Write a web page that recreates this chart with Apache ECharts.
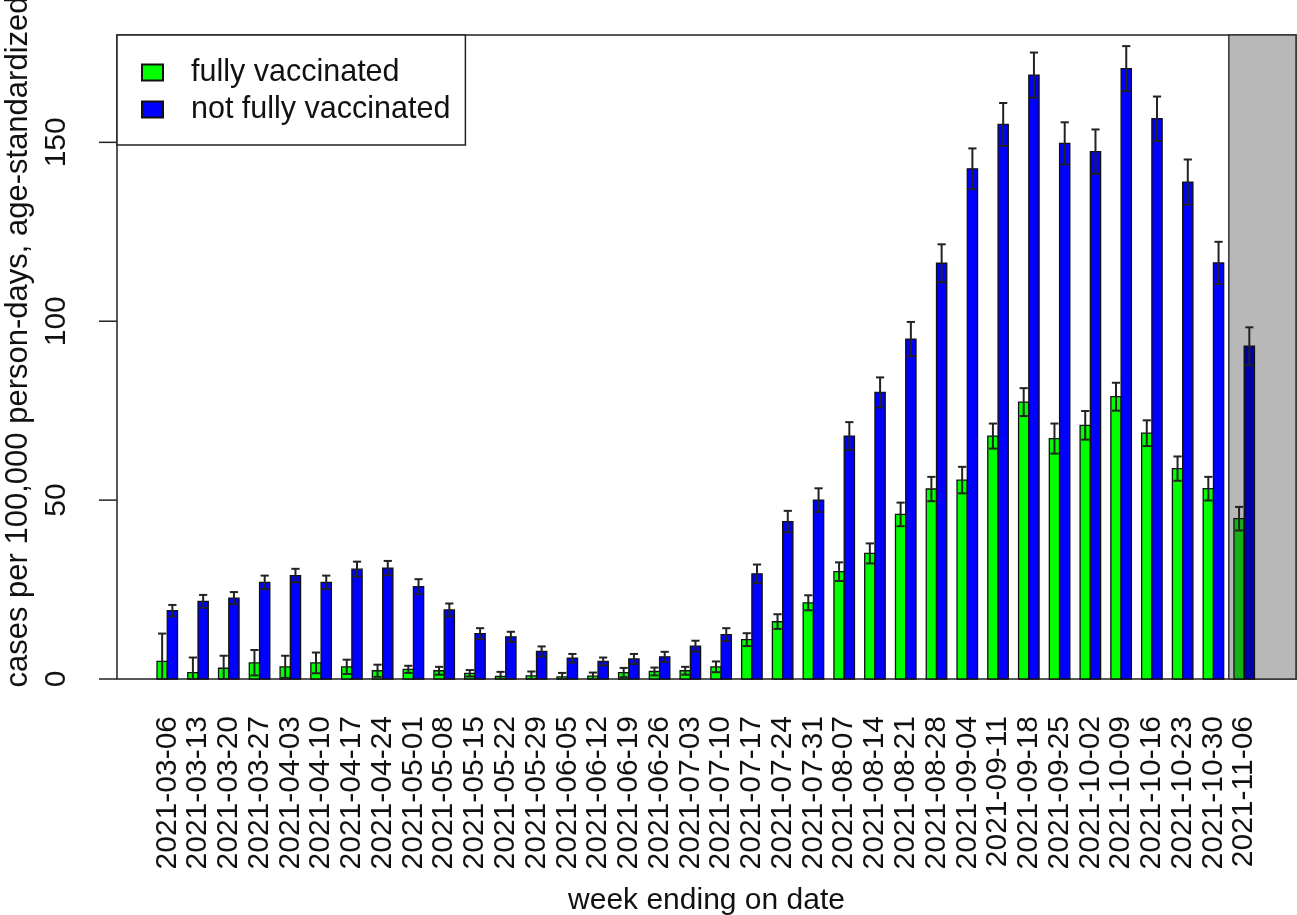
<!DOCTYPE html>
<html>
<head>
<meta charset="utf-8">
<script src="https://cdn.jsdelivr.net/npm/echarts@6/dist/echarts.min.js"></script>
<style>
  html, body { margin: 0; padding: 0; background: #fff; }
  #chart { width: 1297px; height: 915px; }
</style>
</head>
<body>
<div id="chart"></div>
<script>
  // week ending dates
  var weeks = ['2021-03-06', '2021-03-13', '2021-03-20', '2021-03-27', '2021-04-03', '2021-04-10',
    '2021-04-17', '2021-04-24', '2021-05-01', '2021-05-08', '2021-05-15', '2021-05-22',
    '2021-05-29', '2021-06-05', '2021-06-12', '2021-06-19', '2021-06-26', '2021-07-03',
    '2021-07-10', '2021-07-17', '2021-07-24', '2021-07-31', '2021-08-07', '2021-08-14',
    '2021-08-21', '2021-08-28', '2021-09-04', '2021-09-11', '2021-09-18', '2021-09-25',
    '2021-10-02', '2021-10-09', '2021-10-16', '2021-10-23', '2021-10-30', '2021-11-06'];

  // fully vaccinated: rate, lower and upper CI
  var fullyRate = [4.9, 1.8, 3.0, 4.5, 3.4, 4.5, 3.4, 2.3, 2.7, 2.3, 1.6, 0.7,
    0.9, 0.6, 0.8, 1.8, 2.1, 2.3, 3.4, 11.0, 16.0, 21.3, 30.0, 35.1,
    46.0, 53.1, 55.6, 67.9, 77.4, 67.2, 70.9, 78.9, 68.7, 58.8, 53.2, 44.8];
  var fullyLow = [0, 0, 0, 1.0, 0.3, 1.6, 1.4, 0.6, 1.7, 1.2, 0.7, 0,
    0, 0, 0, 0.5, 1.0, 1.2, 1.9, 9.2, 14.0, 19.2, 27.4, 32.3,
    42.7, 49.7, 51.9, 64.4, 73.5, 63.0, 66.9, 75.0, 65.1, 55.4, 49.9, 41.5];
  var fullyHigh = [12.7, 6.0, 6.5, 8.1, 6.5, 7.4, 5.4, 4.0, 3.7, 3.4, 2.5, 2.0,
    2.1, 1.7, 1.8, 3.1, 3.2, 3.4, 4.9, 12.8, 18.1, 23.4, 32.6, 37.9,
    49.3, 56.5, 59.3, 71.4, 81.3, 71.4, 74.9, 82.8, 72.3, 62.2, 56.5, 48.1];

  // not fully vaccinated: rate, lower and upper CI
  var notFullyRate = [19.1, 21.7, 22.6, 27.0, 28.9, 27.0, 30.7, 31.0, 25.8, 19.3, 12.7, 11.8,
    7.7, 5.8, 4.9, 5.6, 6.2, 9.2, 12.4, 29.4, 44.0, 50.0, 67.9, 80.1,
    95.0, 116.2, 142.6, 155.0, 168.8, 149.7, 147.4, 170.6, 156.6, 138.9, 116.3, 93.0];
  var notFullyLow = [17.5, 19.9, 20.9, 25.1, 27.0, 25.1, 28.6, 29.0, 23.7, 17.5, 11.2, 10.4,
    6.3, 4.6, 3.8, 4.2, 4.8, 7.7, 10.6, 26.8, 41.0, 46.7, 64.0, 75.9,
    90.2, 110.9, 136.9, 149.0, 162.5, 143.8, 141.2, 164.3, 150.4, 132.6, 110.4, 87.7];
  var notFullyHigh = [20.7, 23.5, 24.3, 28.9, 30.8, 28.9, 32.8, 33.0, 27.9, 21.1, 14.2, 13.2,
    9.1, 7.0, 6.0, 7.0, 7.6, 10.7, 14.2, 32.0, 47.0, 53.3, 71.8, 84.3,
    99.8, 121.5, 148.3, 161.0, 175.1, 155.6, 153.6, 176.9, 162.8, 145.2, 122.2, 98.3];

  var yTicks = [0, 50, 100, 150];
  var shadedWeeks = ['2021-11-06'];

  var font = '"Liberation Sans", Arial, sans-serif';
  var firstShaded = weeks.indexOf(shadedWeeks[0]);
  var xMin = -2.9, xMax = 112.05;

  // barplot layout like R: each group = 1 gap + 2 bars of width 1
  function buildData(rate, low, high, offset) {
    return rate.map(function (v, i) {
      return [3 * i + offset, v, low[i], high[i]];
    });
  }

  function barRenderer(color, darkColor) {
    return function (params, api) {
      var x = api.value(0), v = api.value(1), lo = api.value(2), hi = api.value(3);
      var p0 = api.coord([x - 0.5, 0]);
      var p1 = api.coord([x + 0.5, v]);
      var cx = api.coord([x, 0])[0];
      var capL = api.coord([x - 0.4, 0])[0];
      var capR = api.coord([x + 0.4, 0])[0];
      var yLo = api.coord([x, lo])[1];
      var yHi = api.coord([x, hi])[1];
      var shaded = params.dataIndex >= firstShaded;
      var errStyle = { stroke: '#222', lineWidth: 2 };
      return {
        type: 'group',
        children: [
          {
            type: 'rect',
            shape: { x: p0[0], y: p1[1], width: p1[0] - p0[0], height: p0[1] - p1[1] },
            style: { fill: shaded ? darkColor : color, stroke: '#111', lineWidth: 1.3 }
          },
          { type: 'line', shape: { x1: cx, y1: yLo, x2: cx, y2: yHi }, style: errStyle },
          { type: 'line', shape: { x1: capL, y1: yHi, x2: capR, y2: yHi }, style: errStyle },
          { type: 'line', shape: { x1: capL, y1: yLo, x2: capR, y2: yLo }, style: errStyle }
        ]
      };
    };
  }

  // y ticks drawn outside the left edge of the plot box, like R's axis()
  function tickRenderer(params, api) {
    var p = api.coord([xMin, api.value(1)]);
    return {
      type: 'line',
      shape: { x1: p[0] - 18, y1: p[1], x2: p[0], y2: p[1] },
      style: { stroke: '#222', lineWidth: 1.5 }
    };
  }

  var chart = echarts.init(document.getElementById('chart'));
  chart.setOption({
    animation: false,
    backgroundColor: '#fff',
    textStyle: { fontFamily: font },
    grid: {
      left: 117, top: 35, width: 1179, height: 644,
      outerBoundsMode: 'none',
      containLabel: false,
      show: true, borderColor: '#222', borderWidth: 1.5, backgroundColor: '#fff'
    },
    legend: {
      left: 117, top: 35,
      orient: 'vertical',
      data: ['fully vaccinated', 'not fully vaccinated'],
      backgroundColor: '#fff',
      borderColor: '#222', borderWidth: 1.5,
      padding: [22, 15, 20, 24],
      itemWidth: 21, itemHeight: 16, itemGap: 6,
      icon: 'rect',
      textStyle: { fontSize: 30.5, color: '#111', fontFamily: font, lineHeight: 30, padding: [0, 0, 0, 23] },
      z: 10
    },
    xAxis: {
      type: 'value',
      min: xMin, max: xMax,
      name: 'week ending on date',
      nameLocation: 'middle',
      nameGap: 207,
      nameTextStyle: { fontSize: 30, color: '#111', fontFamily: font },
      axisLine: { show: false, onZero: false },
      axisTick: { show: false },
      splitLine: { show: false },
      axisLabel: {
        customValues: weeks.map(function (w, i) { return 3 * i + 2; }),
        formatter: function (v) { return weeks[Math.round((v - 2) / 3)]; },
        hideOverlap: false,
        rotate: 90,
        margin: 37,
        fontSize: 30,
        color: '#111',
        fontFamily: font
      }
    },
    yAxis: {
      type: 'value',
      min: 0, max: 180,
      position: 'left',
      name: 'cases per 100,000 person-days, age-standardized',
      nameLocation: 'middle',
      nameGap: 74,
      nameTextStyle: { fontSize: 31, color: '#111', fontFamily: font, padding: [0, 0, 0, 30] },
      axisLine: { show: false, onZero: false },
      splitLine: { show: false },
      axisTick: { show: false },
      axisLabel: {
        customValues: yTicks,
        showMinLabel: true,
        showMaxLabel: true,
        rotate: 90,
        margin: 45,
        fontSize: 30,
        color: '#111',
        fontFamily: font
      }
    },
    series: [
      {
        name: 'shade',
        type: 'line',
        data: [],
        z: 1,
        markArea: {
          silent: true,
          itemStyle: { color: '#b8b8b8', borderColor: '#333', borderWidth: 1.5 },
          data: [[{ xAxis: 3 * firstShaded + 0.5 }, { xAxis: xMax }]]
        }
      },
      {
        name: 'yticks',
        type: 'custom',
        clip: false,
        silent: true,
        z: 5,
        encode: { x: 0, y: 1 },
        renderItem: tickRenderer,
        data: yTicks.map(function (v) { return [xMin, v]; })
      },
      {
        name: 'fully vaccinated',
        type: 'custom',
        z: 3,
        itemStyle: { color: '#00ff00', borderColor: '#111', borderWidth: 1 },
        encode: { x: 0, y: [1, 2, 3] },
        renderItem: barRenderer('#00ff00', '#18b018'),
        data: buildData(fullyRate, fullyLow, fullyHigh, 1.5)
      },
      {
        name: 'not fully vaccinated',
        type: 'custom',
        z: 3,
        itemStyle: { color: '#0000ff', borderColor: '#111', borderWidth: 1 },
        encode: { x: 0, y: [1, 2, 3] },
        renderItem: barRenderer('#0000ff', '#0000a8'),
        data: buildData(notFullyRate, notFullyLow, notFullyHigh, 2.5)
      }
    ]
  });
</script>
</body>
</html>
